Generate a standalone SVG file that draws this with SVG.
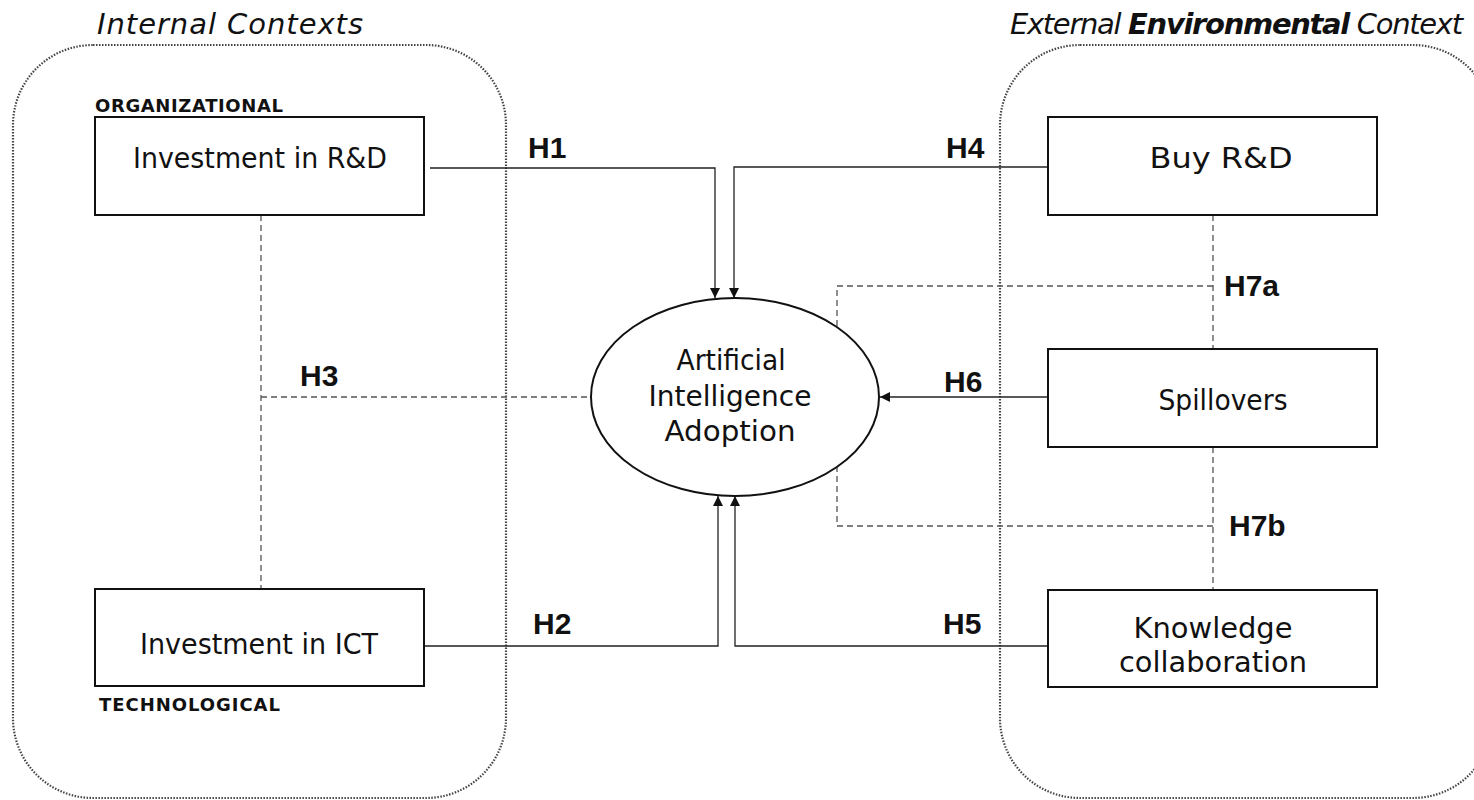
<svg xmlns="http://www.w3.org/2000/svg" width="1474" height="800" viewBox="0 0 1474 800">
  <style>
    .ctx { fill: none; stroke: #444444; stroke-width: 2.2; stroke-dasharray: 1.5 1.5; }
    .box { fill: #ffffff; stroke: #111111; stroke-width: 2; }
    .lbl { font-family: "DejaVu Sans", "Liberation Sans", sans-serif; font-size: 28px; fill: #111111; }
    .title { font-family: "DejaVu Sans", "Liberation Sans", sans-serif; font-size: 29px; font-style: italic; fill: #111111; }
    .cat { font-family: "DejaVu Sans", "Liberation Sans", sans-serif; font-size: 18px; font-weight: bold; fill: #111111; }
    .hyp { font-family: "Liberation Sans", Arial, sans-serif; font-size: 30px; font-weight: bold; fill: #111111; }
    .solid { fill: none; stroke: #222222; stroke-width: 1.3; }
    .dash { fill: none; stroke: #555555; stroke-width: 1.3; stroke-dasharray: 6 4; }
  </style>
  <defs>
    <marker id="arrow" viewBox="0 0 10 10" refX="10" refY="5" markerWidth="10" markerHeight="10" markerUnits="userSpaceOnUse" orient="auto">
      <path d="M0,0 L10,5 L0,10 Z" fill="#111111"/>
    </marker>
  </defs>

  <rect width="1474" height="800" fill="#ffffff"/>

  <!-- context panels -->
  <g id="internal-contexts">
    <rect class="ctx" x="13" y="45" width="493" height="753" rx="80" ry="80"/>
    <text class="title" x="97" y="34" textLength="266">Internal Contexts</text>
  </g>
  <g id="external-context">
    <rect class="ctx" x="1000" y="45" width="493" height="753" rx="80" ry="80"/>
    <text class="title" x="1010" y="34" textLength="453">External <tspan font-weight="bold">Environmental</tspan> Context</text>
  </g>

  <!-- connectors -->
  <g id="connectors">
    <!-- H1 -->
    <path class="solid" d="M430,168 H715 V298" marker-end="url(#arrow)"/>
    <!-- H4 -->
    <path class="solid" d="M1048,167 H734 V298" marker-end="url(#arrow)"/>
    <!-- H2 -->
    <path class="solid" d="M425,646 H718 V496" marker-end="url(#arrow)"/>
    <!-- H5 -->
    <path class="solid" d="M1048,646 H735 V496" marker-end="url(#arrow)"/>
    <!-- H6 -->
    <path class="solid" d="M1048,397 H880" marker-end="url(#arrow)"/>
    <!-- H3 -->
    <path class="dash" d="M261,215 V589"/>
    <path class="dash" d="M261,397 H591"/>
    <!-- H7a -->
    <path class="dash" d="M1213,215 V349"/>
    <path class="dash" d="M1213,286 H837 V327"/>
    <!-- H7b -->
    <path class="dash" d="M1213,447 V590"/>
    <path class="dash" d="M1213,526 H837 V467"/>

    <text class="hyp" x="528" y="158">H1</text>
    <text class="hyp" x="533" y="634">H2</text>
    <text class="hyp" x="300" y="386">H3</text>
    <text class="hyp" x="946" y="158">H4</text>
    <text class="hyp" x="943" y="634">H5</text>
    <text class="hyp" x="944" y="392">H6</text>
    <text class="hyp" x="1224" y="296">H7a</text>
    <text class="hyp" x="1229" y="536">H7b</text>
  </g>

  <!-- internal factors -->
  <g id="investment-rd">
    <text class="cat" x="95" y="112" textLength="188">ORGANIZATIONAL</text>
    <rect class="box" x="95" y="117" width="329" height="98"/>
    <text class="lbl" x="260" y="168" text-anchor="middle" textLength="254" lengthAdjust="spacingAndGlyphs">Investment in R&amp;D</text>
  </g>
  <g id="investment-ict">
    <rect class="box" x="95" y="589" width="329" height="97"/>
    <text class="lbl" x="259" y="654" text-anchor="middle" textLength="238" lengthAdjust="spacingAndGlyphs">Investment in ICT</text>
    <text class="cat" x="99" y="711" textLength="181">TECHNOLOGICAL</text>
  </g>

  <!-- outcome -->
  <g id="ai-adoption">
    <ellipse cx="735" cy="397" rx="144" ry="99" fill="#ffffff" stroke="#111111" stroke-width="2"/>
    <text class="lbl" x="731" y="370" text-anchor="middle" textLength="109" lengthAdjust="spacingAndGlyphs">Artificial</text>
    <text class="lbl" x="730" y="406" text-anchor="middle" textLength="163" lengthAdjust="spacingAndGlyphs">Intelligence</text>
    <text class="lbl" x="730" y="441" text-anchor="middle" textLength="131" lengthAdjust="spacingAndGlyphs">Adoption</text>
  </g>

  <!-- external factors -->
  <g id="buy-rd">
    <rect class="box" x="1048" y="117" width="329" height="98"/>
    <text class="lbl" x="1221" y="168" text-anchor="middle" textLength="143" lengthAdjust="spacingAndGlyphs">Buy R&amp;D</text>
  </g>
  <g id="spillovers">
    <rect class="box" x="1048" y="349" width="329" height="98"/>
    <text class="lbl" x="1223" y="410" text-anchor="middle" textLength="129" lengthAdjust="spacingAndGlyphs">Spillovers</text>
  </g>
  <g id="knowledge-collaboration">
    <rect class="box" x="1048" y="590" width="329" height="97"/>
    <text class="lbl" x="1213" y="638" text-anchor="middle" textLength="159" lengthAdjust="spacingAndGlyphs">Knowledge</text>
    <text class="lbl" x="1213" y="672" text-anchor="middle" textLength="188" lengthAdjust="spacingAndGlyphs">collaboration</text>
  </g>
</svg>
